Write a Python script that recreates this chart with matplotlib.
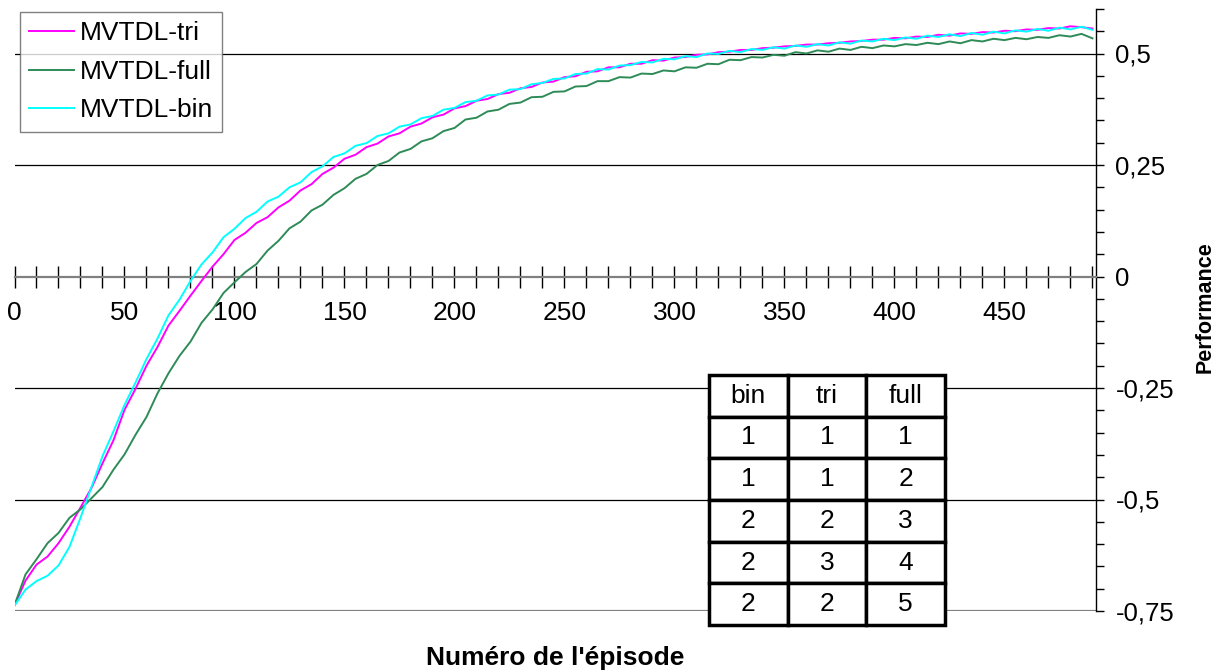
import numpy as np
import matplotlib
matplotlib.use("Agg")
import matplotlib.pyplot as plt
from matplotlib.ticker import MultipleLocator, FuncFormatter

plt.rcParams['font.family'] = ['Liberation Sans', 'DejaVu Sans']

# episode index (one sample every 5 episodes)
episodes = list(range(0, 491, 5))

perf_tri = [
    -0.737, -0.682, -0.646, -0.628, -0.598, -0.561, -0.518, -0.474, -0.419, -0.367,
    -0.299, -0.252, -0.200, -0.158, -0.110, -0.077, -0.043, -0.010, 0.022, 0.050,
    0.082, 0.098, 0.120, 0.133, 0.155, 0.170, 0.193, 0.207, 0.230, 0.244,
    0.264, 0.273, 0.290, 0.298, 0.314, 0.321, 0.336, 0.343, 0.357, 0.363,
    0.377, 0.382, 0.394, 0.398, 0.409, 0.412, 0.422, 0.425, 0.435, 0.437,
    0.447, 0.449, 0.459, 0.460, 0.469, 0.469, 0.477, 0.477, 0.485, 0.484,
    0.491, 0.492, 0.497, 0.498, 0.503, 0.504, 0.508, 0.508, 0.512, 0.513,
    0.516, 0.517, 0.520, 0.520, 0.523, 0.524, 0.527, 0.528, 0.531, 0.531,
    0.535, 0.534, 0.538, 0.537, 0.542, 0.540, 0.545, 0.544, 0.548, 0.547,
    0.551, 0.550, 0.554, 0.553, 0.557, 0.556, 0.561, 0.559, 0.556,
]

perf_full = [
    -0.737, -0.668, -0.634, -0.598, -0.575, -0.541, -0.522, -0.497, -0.472, -0.433,
    -0.399, -0.355, -0.315, -0.262, -0.217, -0.178, -0.146, -0.104, -0.074, -0.037,
    -0.013, 0.010, 0.028, 0.058, 0.080, 0.108, 0.123, 0.148, 0.161, 0.183,
    0.198, 0.219, 0.230, 0.250, 0.259, 0.278, 0.286, 0.303, 0.310, 0.326,
    0.333, 0.352, 0.356, 0.370, 0.374, 0.387, 0.390, 0.402, 0.403, 0.414,
    0.415, 0.426, 0.427, 0.438, 0.438, 0.447, 0.446, 0.455, 0.454, 0.462,
    0.460, 0.469, 0.468, 0.477, 0.476, 0.486, 0.485, 0.492, 0.491, 0.497,
    0.495, 0.503, 0.500, 0.507, 0.504, 0.511, 0.508, 0.515, 0.512, 0.518,
    0.516, 0.521, 0.519, 0.524, 0.521, 0.527, 0.523, 0.530, 0.527, 0.533,
    0.530, 0.535, 0.532, 0.537, 0.535, 0.541, 0.538, 0.544, 0.534,
]

perf_bin = [
    -0.738, -0.702, -0.683, -0.671, -0.648, -0.606, -0.541, -0.472, -0.403, -0.347,
    -0.288, -0.238, -0.185, -0.139, -0.087, -0.052, -0.010, 0.027, 0.054, 0.088,
    0.107, 0.131, 0.145, 0.168, 0.179, 0.200, 0.211, 0.234, 0.247, 0.268,
    0.276, 0.293, 0.299, 0.315, 0.321, 0.336, 0.341, 0.355, 0.360, 0.374,
    0.378, 0.391, 0.394, 0.406, 0.408, 0.419, 0.420, 0.431, 0.434, 0.443,
    0.444, 0.454, 0.455, 0.465, 0.464, 0.473, 0.474, 0.481, 0.480, 0.488,
    0.487, 0.494, 0.492, 0.500, 0.499, 0.506, 0.503, 0.510, 0.508, 0.514,
    0.511, 0.518, 0.515, 0.521, 0.518, 0.525, 0.522, 0.529, 0.527, 0.533,
    0.530, 0.536, 0.533, 0.540, 0.537, 0.543, 0.539, 0.546, 0.542, 0.549,
    0.545, 0.552, 0.549, 0.555, 0.551, 0.558, 0.554, 0.560, 0.553,
]

table_header = ["bin", "tri", "full"]
table_rows = [
    ["1", "1", "1"],
    ["1", "1", "2"],
    ["2", "2", "3"],
    ["2", "3", "4"],
    ["2", "2", "5"],
]

W, H = 1222, 672
fig = plt.figure(figsize=(W / 100, H / 100), dpi=100)
ax_l, ax_r = 14.5, 1096
ax_t, ax_b = 8.9, 611
ax = fig.add_axes([ax_l / W, 1 - ax_b / H, (ax_r - ax_l) / W, (ax_b - ax_t) / H])

ax.set_xlim(0, 491.6)
ax.set_ylim(-0.75, 0.6)

# horizontal grid lines
for yv in [0.5, 0.25, -0.25, -0.5]:
    ax.axhline(yv, color='black', lw=0.9, zorder=1)
ax.axhline(-0.75, color='#808080', lw=1.6, zorder=1)

ax.plot(episodes, perf_tri, color='#FF00FF', lw=1.4, label='MVTDL-tri', zorder=3)
ax.plot(episodes, perf_full, color='#2E8B57', lw=1.4, label='MVTDL-full', zorder=3)
ax.plot(episodes, perf_bin, color='#00FFFF', lw=1.4, label='MVTDL-bin', zorder=4)

# spines: value axis on the right, category axis crossing at 0
for s in ['left', 'top']:
    ax.spines[s].set_visible(False)
ax.spines['right'].set_color('black')
ax.spines['right'].set_linewidth(1.0)
ax.spines['bottom'].set_position(('data', 0))
ax.spines['bottom'].set_color('#808080')
ax.spines['bottom'].set_linewidth(1.6)

ax.yaxis.tick_right()
ax.yaxis.set_major_locator(MultipleLocator(0.25))
ax.yaxis.set_minor_locator(MultipleLocator(0.05))
ax.yaxis.set_major_formatter(FuncFormatter(lambda v, p: ('%g' % round(v, 2)).replace('.', ',')))
ax.tick_params(axis='y', which='both', direction='out', length=6, width=1,
               color='black', labelsize=18.5, pad=8)

ax.xaxis.set_major_locator(MultipleLocator(50))
ax.xaxis.set_minor_locator(MultipleLocator(10))
ax.tick_params(axis='x', which='both', direction='inout', length=16, width=1,
               color='black', labelsize=19, pad=10)
ax.set_xticks([t for t in range(0, 451, 50)])

leg = ax.legend(loc='upper left', bbox_to_anchor=(20 / W, 1 - 12 / H),
                bbox_transform=fig.transFigure, frameon=True, fancybox=False,
                fontsize=19, handlelength=1.7, handletextpad=0.2,
                labelspacing=0.55, borderpad=0.35, borderaxespad=0)
leg.get_frame().set_edgecolor('#606060')
leg.get_frame().set_linewidth(1.0)

# configuration table
tx0, tx1, ty0, ty1 = 709, 945, 375, 625
aw, ah = ax_r - ax_l, ax_b - ax_t
tbl = ax.table(cellText=[table_header] + table_rows, cellLoc='center',
               bbox=[(tx0 - ax_l) / aw, (ax_b - ty1) / ah,
                     (tx1 - tx0) / aw, (ty1 - ty0) / ah])
tbl.auto_set_font_size(False)
tbl.set_fontsize(19)
tbl.set_zorder(5)
for cell in tbl.get_celld().values():
    cell.set_linewidth(2.5)
    cell.set_edgecolor('black')
    cell.set_facecolor('white')
    cell.set_clip_on(False)
    cell.get_text().set_fontweight('light')

fig.text(555 / W, 1 - 658 / H, "Numéro de l'épisode", ha='center', va='center',
         fontsize=19, fontweight='bold')
fig.text(1205 / W, 1 - 307 / H, "Performance", ha='center', va='center',
         rotation=90, fontsize=15.5, fontweight='bold')

fig.savefig('out.png', dpi=100)
